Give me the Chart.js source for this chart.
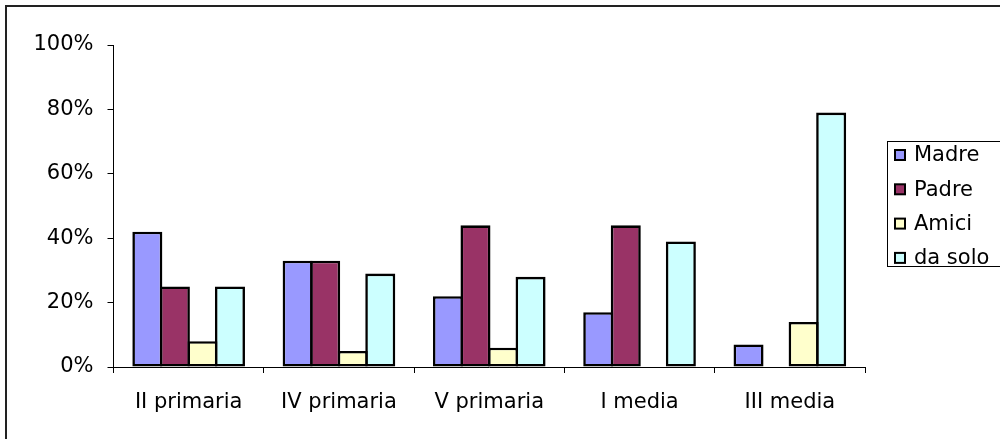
<!DOCTYPE html>
<html>
<head>
<meta charset="utf-8">
<script src="https://cdn.jsdelivr.net/npm/chart.js@4/dist/chart.umd.min.js"></script>
<style>
  html, body { margin: 0; padding: 0; background: #fff; }
  #wrap { position: relative; width: 1000px; height: 439px; overflow: hidden; }
  #frame { position: absolute; left: 5px; top: 5px; width: 1100px; height: 500px;
           border-left: 2px solid #222; border-top: 2px solid #222; pointer-events: none; }
  canvas { position: absolute; left: 0; top: 0; }
</style>
</head>
<body>
<div id="wrap">
  <canvas id="chart" width="1000" height="439"></canvas>
  <div id="frame"></div>
</div>
<script>
// Classi scolastiche
const categories = ['II primaria', 'IV primaria', 'V primaria', 'I media', 'III media'];

// Percentuali per chi aiuta nei compiti
const madre  = [42, 33, 22, 17, 7];
const padre  = [25, 33, 44, 44, 0];
const amici  = [8, 5, 6, 0, 14];
const daSolo = [25, 29, 28, 39, 79];

const yTicks = [0, 20, 40, 60, 80, 100];

const FONT = { family: '"DejaVu Sans", Verdana, sans-serif', size: 21 };

// Barre leggermente più larghe dello slot: i bordi adiacenti si sovrappongono
const CAT_PCT = 0.733;
const BAR_PCT = 1.09;

function series(label, data, color) {
  return {
    label, data,
    backgroundColor: color,
    borderColor: '#000',
    borderWidth: 2.6,
    borderSkipped: false,
    categoryPercentage: CAT_PCT,
    barPercentage: BAR_PCT
  };
}

// Legenda in riquadro a destra, costruita dai dataset
const boxLegend = {
  id: 'boxLegend',
  afterDraw(chart) {
    const ctx = chart.ctx;
    const left = 887.5, top = 141.5, w = 120, h = 125;
    ctx.save();
    ctx.strokeStyle = '#000';
    ctx.lineWidth = 1;
    ctx.strokeRect(left, top, w, h);
    ctx.font = `${FONT.size}px ${FONT.family}`;
    ctx.textBaseline = 'middle';
    chart.data.datasets.forEach((ds, i) => {
      const cy = 155 + i * 34.3;
      ctx.fillStyle = ds.backgroundColor;
      ctx.fillRect(895, cy - 5, 10, 10);
      ctx.lineWidth = 2;
      ctx.strokeStyle = '#000';
      ctx.strokeRect(895, cy - 5, 10, 10);
      ctx.fillStyle = '#000';
      ctx.fillText(ds.label, 914, cy + 1);
    });
    ctx.restore();
  }
};

new Chart(document.getElementById('chart'), {
  type: 'bar',
  data: {
    labels: categories,
    datasets: [
      series('Madre', madre, '#9999FF'),
      series('Padre', padre, '#993366'),
      series('Amici', amici, '#FFFFCC'),
      series('da solo', daSolo, '#CCFFFF')
    ]
  },
  options: {
    responsive: false,
    animation: false,
    devicePixelRatio: 1,
    layout: { padding: { left: 0, top: 45, right: 135, bottom: 0 } },
    plugins: {
      legend: { display: false },
      tooltip: { enabled: false }
    },
    scales: {
      x: {
        offset: true,
        grid: { offset: true, drawOnChartArea: false, drawTicks: true, tickLength: 6, color: '#000', lineWidth: 1 },
        border: { display: true, color: '#000', width: 1 },
        ticks: { color: '#000', font: FONT, padding: 17, maxRotation: 0, autoSkip: false },
        afterFit(scale) { scale.height = 72; }
      },
      y: {
        min: 0, max: 100,
        afterBuildTicks(scale) { scale.ticks = yTicks.map(v => ({ value: v })); },
        grid: { drawOnChartArea: false, drawTicks: true, tickLength: 6, color: '#000', lineWidth: 1 },
        border: { display: true, color: '#000', width: 1 },
        ticks: { color: '#000', font: FONT, padding: 14, callback: v => v + '%' },
        afterFit(scale) { scale.width = 113.5; }
      }
    }
  },
  plugins: [boxLegend]
});
</script>
</body>
</html>
